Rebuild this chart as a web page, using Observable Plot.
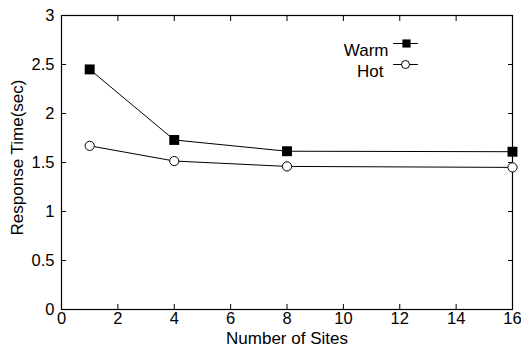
<!DOCTYPE html>
<html>
<head>
<meta charset="utf-8">
<script src="https://cdn.jsdelivr.net/npm/d3@7"></script>
<script src="https://cdn.jsdelivr.net/npm/@observablehq/plot@0.6"></script>
<style>
  body { margin: 0; background: #fff; }
  svg { font-family: "Liberation Sans", Arial, sans-serif; }
</style>
</head>
<body>
<div id="chart"></div>
<script>
const sites = [1, 4, 8, 16];
const warm = [2.45, 1.73, 1.615, 1.61];
const hot = [1.67, 1.515, 1.46, 1.45];
const xTicks = [0, 2, 4, 6, 8, 10, 12, 14, 16];
const yTicks = [0, 0.5, 1, 1.5, 2, 2.5, 3];
const seriesNames = ["Warm", "Hot"];

const warmData = sites.map((s, i) => ({x: s, y: warm[i]}));
const hotData = sites.map((s, i) => ({x: s, y: hot[i]}));

const seg = {draw(ctx, l) { ctx.moveTo(0, 0); ctx.lineTo(0, -l); }};

const chart = Plot.plot({
  width: 521,
  height: 353,
  marginLeft: 61,
  marginRight: 9,
  marginTop: 15,
  marginBottom: 44,
  style: {fontFamily: "Liberation Sans, Arial, sans-serif", fontSize: "16px", color: "#000", background: "#fff"},
  x: {domain: [0, 16]},
  y: {domain: [0, 3]},
  marks: [
    Plot.frame({stroke: "#000", strokeWidth: 1.2}),
    Plot.axisX(xTicks, {anchor: "bottom", tickSize: -5, tickPadding: 8, fontSize: 16.5, label: null, tickFormat: d => String(d)}),
    Plot.axisX(xTicks, {anchor: "top", tickSize: -5, tickFormat: () => "", label: null}),
    Plot.axisY(yTicks, {anchor: "left", tickSize: -5, tickPadding: 12, fontSize: 16.5, label: null, tickFormat: d => String(d)}),
    Plot.axisY(yTicks, {anchor: "right", tickSize: -5, tickFormat: () => "", label: null}),
    Plot.text(["Number of Sites"], {frameAnchor: "bottom", dy: 34, fontSize: 17}),
    Plot.text(["Response Time(sec)"], {frameAnchor: "left", textAnchor: "middle", rotate: -90, dx: -44, dy: -5, fontSize: 17}),
    Plot.line(warmData, {x: "x", y: "y", stroke: "#000", strokeWidth: 1}),
    Plot.line(hotData, {x: "x", y: "y", stroke: "#000", strokeWidth: 1}),
    Plot.dot(warmData, {x: "x", y: "y", symbol: "square", r: 5.6, fill: "#000", stroke: "none"}),
    Plot.dot(hotData, {x: "x", y: "y", symbol: "circle", r: 4.6, fill: "#fff", stroke: "#000", strokeWidth: 1}),
    // legend
    Plot.text([seriesNames[0]], {frameAnchor: "top-left", dx: 327, dy: 28, textAnchor: "end", fontSize: 17}),
    Plot.text([seriesNames[1]], {frameAnchor: "top-left", dx: 322, dy: 49, textAnchor: "end", fontSize: 17}),
    Plot.vector([seriesNames[0]], {frameAnchor: "top-left", dx: 344, dy: 28, length: 24, rotate: 90, anchor: "middle", shape: seg, stroke: "#000", strokeWidth: 1}),
    Plot.vector([seriesNames[1]], {frameAnchor: "top-left", dx: 344, dy: 49, length: 24, rotate: 90, anchor: "middle", shape: seg, stroke: "#000", strokeWidth: 1}),
    Plot.dot([seriesNames[0]], {frameAnchor: "top-left", dx: 345, dy: 28, symbol: "square", r: 4.6, fill: "#000", stroke: "none"}),
    Plot.dot([seriesNames[1]], {frameAnchor: "top-left", dx: 344, dy: 49, symbol: "circle", r: 4, fill: "#fff", stroke: "#000", strokeWidth: 1})
  ]
});
document.getElementById("chart").appendChild(chart);
</script>
</body>
</html>
